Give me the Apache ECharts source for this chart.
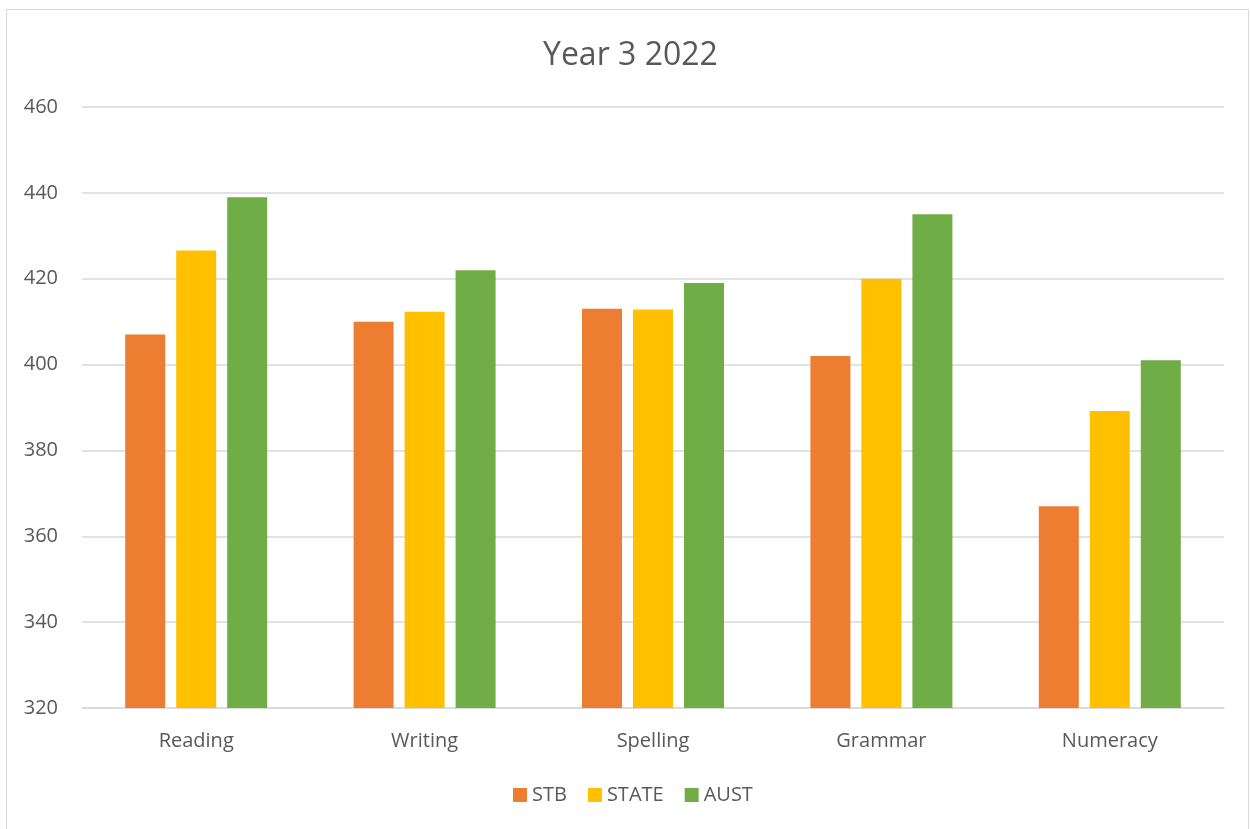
<!DOCTYPE html>
<html>
<head>
<meta charset="utf-8">
<script src="https://cdn.jsdelivr.net/npm/echarts@6/dist/echarts.min.js"></script>
<style>
  html, body { margin: 0; padding: 0; background: #ffffff; }
  #chart { width: 1250px; height: 829px; }
</style>
</head>
<body>
<div id="chart"></div>
<script>
// NAPLAN mean scores, Year 3 2022
const categories = ['Reading', 'Writing', 'Spelling', 'Grammar', 'Numeracy'];
const stb   = [407, 410, 413, 402, 367];
const state = [426.6, 412.3, 412.8, 420, 389.2];
const aust  = [439, 422, 419, 435, 401];
const seriesNames = ['STB', 'STATE', 'AUST'];
const seriesColors = ['#ED7D31', '#FFC000', '#70AD47'];
const yMin = 320, yMax = 460, yStep = 20;

const textColor = '#595959';
const gridColor = '#d9d9d9';
const fontFamily = '"Open Sans", "Liberation Sans", sans-serif';

const chart = echarts.init(document.getElementById('chart'), null, { renderer: 'canvas' });

const values = [stb, state, aust];

chart.setOption({
  backgroundColor: '#ffffff',
  animation: false,
  textStyle: { fontFamily: fontFamily, color: textColor },
  graphic: [{
    type: 'rect',
    shape: { x: 6.5, y: 9.5, width: 1242, height: 840 },
    style: { fill: 'none', stroke: gridColor, lineWidth: 1 },
    silent: true
  }],
  title: {
    text: 'Year 3 2022',
    left: 538,
    top: 35,
    padding: 5,
    textStyle: { fontSize: 32, fontWeight: 'normal', color: textColor, fontFamily: fontFamily }
  },
  legend: {
    data: seriesNames,
    bottom: 19,
    left: 508,
    padding: 5,
    icon: 'rect',
    itemWidth: 14,
    itemHeight: 14,
    itemGap: 21,
    textStyle: { fontSize: 20, color: textColor, fontFamily: fontFamily }
  },
  grid: { left: 82, right: 26, top: 107, bottom: 121, containLabel: false },
  xAxis: {
    type: 'category',
    data: categories,
    axisLine: { show: true, lineStyle: { color: gridColor, width: 1.5 } },
    axisTick: { show: false },
    axisLabel: { fontSize: 20, color: textColor, margin: 23, fontFamily: fontFamily }
  },
  yAxis: {
    type: 'value',
    min: yMin,
    max: yMax,
    interval: yStep,
    axisLine: { show: false },
    axisTick: { show: false },
    axisLabel: { fontSize: 20, color: textColor, margin: 24, fontFamily: fontFamily },
    splitLine: { show: true, lineStyle: { color: gridColor, width: 1.5 } }
  },
  series: seriesNames.map((name, i) => ({
    name: name,
    type: 'bar',
    data: values[i],
    barWidth: 40,
    barGap: '27.5%',
    itemStyle: { color: seriesColors[i] }
  }))
});
</script>
</body>
</html>
